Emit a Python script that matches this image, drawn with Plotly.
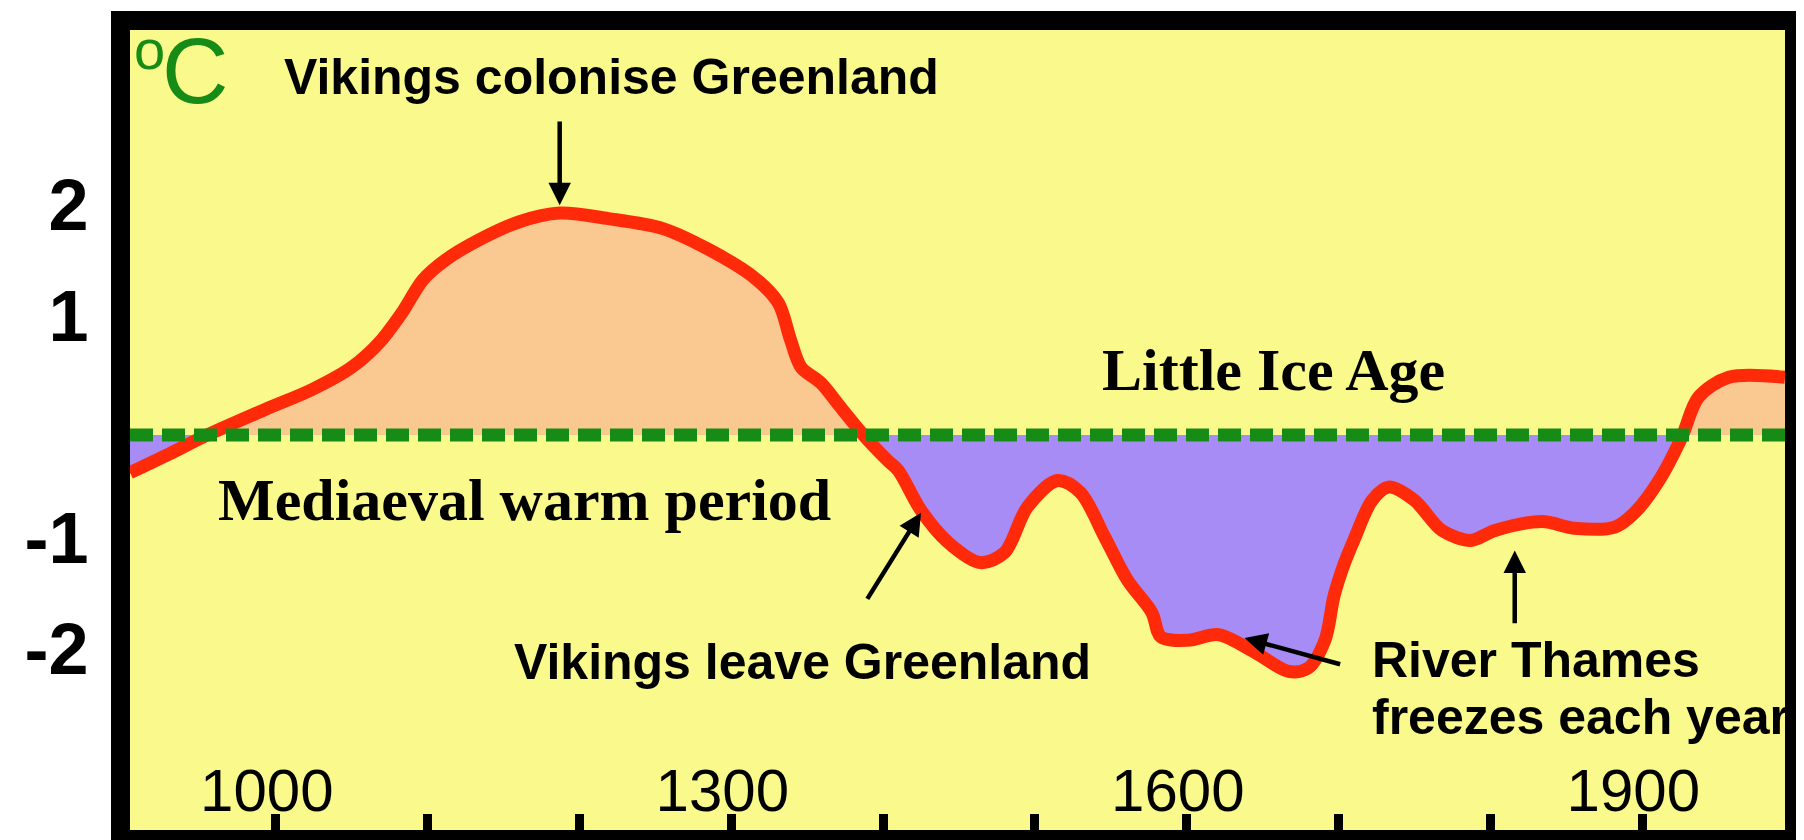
import plotly.graph_objects as go

# ---- data ----
years = [904, 930, 955, 993, 1024, 1050, 1068, 1083, 1097, 1112, 1134, 1160, 1187,
         1219, 1255, 1284, 1315, 1331, 1339, 1346, 1359, 1372, 1387, 1403, 1410,
         1425, 1443, 1464, 1480, 1495, 1515, 1530, 1546, 1561, 1577, 1583, 1601,
         1621, 1645, 1667, 1680, 1691, 1697, 1704, 1710, 1722, 1733, 1750, 1768,
         1787, 1803, 1834, 1855, 1882, 1895, 1911, 1926, 1937, 1957, 1994]
temps = [-0.34, -0.17, 0.0, 0.23, 0.41, 0.61, 0.83, 1.10, 1.40, 1.58, 1.76, 1.92, 2.0,
         1.95, 1.86, 1.68, 1.42, 1.19, 0.86, 0.61, 0.47, 0.25, 0.0, -0.23, -0.32,
         -0.68, -0.97, -1.15, -1.06, -0.65, -0.41, -0.52, -0.92, -1.31, -1.60, -1.82, -1.85,
         -1.80, -1.96, -2.13, -2.10, -1.85, -1.45, -1.15, -0.95, -0.59, -0.47, -0.59, -0.86,
         -0.95, -0.86, -0.78, -0.84, -0.83, -0.70, -0.41, -0.02, 0.34, 0.52, 0.52]

x_tick_vals = [1000, 1300, 1600, 1900]
x_tick_text = ["1000", "1300", "1600", "1900"]
y_tick_vals = [2, 1, -1, -2]
y_tick_text = ["2", "1", "-1", "-2"]

# ---- styles ----
BG = "#FAFA8C"
PEACH = "#FAC891"
PURPLE = "#A88CF5"
RED = "#FF2A0A"
GREEN = "#168C16"
SANS = "Liberation Sans, Arial, sans-serif"
NARROW = "Liberation Sans Narrow, Arial Narrow, Liberation Sans, sans-serif"
SERIF = "Liberation Serif, Times New Roman, serif"

# split the curve into warm / cold parts at zero crossings
xf, pos, neg = [], [], []
for i in range(len(years)):
    if i > 0:
        a, b = temps[i - 1], temps[i]
        if a * b < 0:
            xc = years[i - 1] + (years[i] - years[i - 1]) * (-a) / (b - a)
            xf.append(xc); pos.append(0.0); neg.append(0.0)
    xf.append(years[i])
    pos.append(max(temps[i], 0.0))
    neg.append(min(temps[i], 0.0))

fig = go.Figure()
fig.add_trace(go.Scatter(x=xf, y=pos, mode="lines", fill="tozeroy", fillcolor=PEACH,
                         line=dict(width=0), hoverinfo="skip", showlegend=False))
fig.add_trace(go.Scatter(x=xf, y=neg, mode="lines", fill="tozeroy", fillcolor=PURPLE,
                         line=dict(width=0), hoverinfo="skip", showlegend=False))
fig.add_trace(go.Scatter(x=years, y=temps, mode="lines",
                         line=dict(color=RED, width=13, shape="spline", smoothing=0.9),
                         hoverinfo="skip", showlegend=False))

fig.add_shape(type="line", xref="paper", x0=0, x1=1, yref="y", y0=0, y1=0,
              line=dict(color=GREEN, width=13, dash="23px,9px"), layer="above")

ann = []
def text(x, y, s, size, family, anchor="center", color="black"):
    ann.append(dict(x=x, y=y, xref="x", yref="y", text=s, showarrow=False,
                    xanchor=anchor, yanchor="middle",
                    font=dict(size=size, family=family, color=color)))

def arrow(x, y, ax, ay):
    ann.append(dict(x=x, y=y, ax=ax, ay=ay, xref="x", yref="y", axref="x", ayref="y",
                    text="", showarrow=True, arrowhead=2, arrowsize=1.0,
                    arrowwidth=4.5, arrowcolor="black"))

text(917, 3.47, "o", 56, SANS, color=GREEN)
text(946.6, 3.28, "C", 92, SANS, color=GREEN)
text(1221, 3.23, "<b>Vikings colonise Greenland</b>", 50, SANS)
text(1657, 0.585, "<b>Little Ice Age</b>", 60, SERIF)
text(1164, -0.585, "<b>Mediaeval warm period</b>", 60, SERIF)
text(1347, -2.05, "<b>Vikings leave Greenland</b>", 50, SANS)
text(1721, -2.03, "<b>River Thames</b>", 50, SANS, anchor="left")
text(1721, -2.54, "<b>freezes each year</b>", 50, SANS, anchor="left")

arrow(1187, 2.07, 1187, 2.84)
arrow(1425, -0.70, 1389, -1.49)
arrow(1638, -1.83, 1702, -2.07)
arrow(1816, -1.04, 1816, -1.71)

# page has an 8px body margin; margins below compensate so the frame lands in place
fig.update_layout(
    width=1804, height=840,
    margin=dict(l=122, r=27, t=22, b=18),
    paper_bgcolor="white", plot_bgcolor=BG,
    annotations=ann, showlegend=False,
)
fig.update_xaxes(
    range=[904, 1994], showgrid=False, zeroline=False,
    showline=True, linewidth=19, linecolor="black", mirror=True,
    tickmode="array", tickvals=x_tick_vals, ticktext=x_tick_text,
    ticks="inside", ticklen=16, tickwidth=9, tickcolor="black",
    ticklabelposition="inside", ticklabelshift=-9,
    tickfont=dict(size=60, family=NARROW, color="black"),
    minor=dict(tickmode="linear", tick0=1000, dtick=100, ticks="inside",
               ticklen=16, tickwidth=9, tickcolor="black", showgrid=False),
    automargin=False,
)
fig.update_yaxes(
    range=[-3.56, 3.65], showgrid=False, zeroline=False,
    showline=True, linewidth=19, linecolor="black", mirror=True,
    tickmode="array", tickvals=y_tick_vals, ticktext=y_tick_text,
    ticks="outside", ticklen=8, tickcolor="rgba(0,0,0,0)",
    ticklabelshift=-8,
    tickfont=dict(size=72, family=SANS, color="black", weight="bold"),
    automargin=False,
)

fig.write_html("out.html")
